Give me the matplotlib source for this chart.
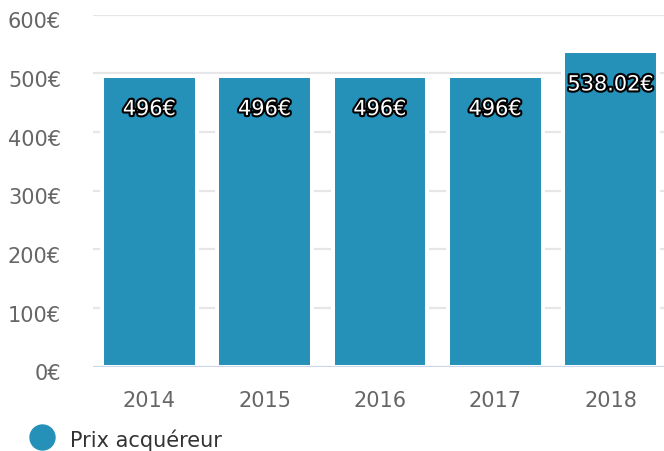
import matplotlib
matplotlib.use("Agg")
import matplotlib.pyplot as plt
import matplotlib.patheffects as pe
import matplotlib.transforms as mtransforms
from matplotlib.lines import Line2D

plt.rcParams["font.family"] = ["DejaVu Sans"]

years = ["2014", "2015", "2016", "2017", "2018"]
prices = [496, 496, 496, 496, 538.02]
labels = ["496€", "496€", "496€", "496€", "538.02€"]
yticks = [0, 100, 200, 300, 400, 500, 600]

W, H = 664, 452
fig = plt.figure(figsize=(W / 100, H / 100), dpi=100)
left, right, top, bottom = 93, 664, 15.7, 367.7
ax = fig.add_axes([left / W, 1 - bottom / H, (right - left) / W, (bottom - top) / H])

color = "#2591b8"
x = list(range(len(years)))
ax.bar(x, prices, width=0.824, color=color, edgecolor="white", linewidth=2.9, zorder=3)
ax.set_xlim(-0.49, 4.464)
ax.set_ylim(0, 600)

for v in yticks[1:]:
    ax.axhline(v, color="#e6e6e6", lw=1.6, zorder=1)
ax.axhline(0, color="#ccd6eb", lw=1.6, zorder=4)

for s in ax.spines.values():
    s.set_visible(False)
ax.set_yticks(yticks)
ax.set_yticklabels([f"{v}€" for v in yticks])
ax.set_xticks(x)
ax.set_xticklabels(years)
ax.tick_params(axis="both", length=0, labelsize=15, labelcolor="#666666")
ax.tick_params(axis="y", pad=23)
ax.tick_params(axis="x", pad=17)
shift = mtransforms.ScaledTranslation(0, -4.5 / 100, fig.dpi_scale_trans)
for lab in ax.get_yticklabels():
    lab.set_transform(lab.get_transform() + shift)

for xi, v, lab in zip(x, prices, labels):
    t = ax.annotate(lab, (xi, v), xytext=(0, -24), textcoords="offset points",
                    ha="center", va="center", color="white", fontsize=15, zorder=5)
    t.set_path_effects([pe.withStroke(linewidth=3, foreground="black")])

fig.add_artist(Line2D([42 / W], [1 - 438 / H], marker="o", markersize=18,
                      color=color, transform=fig.transFigure))
fig.text(70 / W, 1 - 440 / H, "Prix acquéreur", fontsize=15, color="#333333",
         ha="left", va="center")

fig.savefig("out.png", dpi=100)
